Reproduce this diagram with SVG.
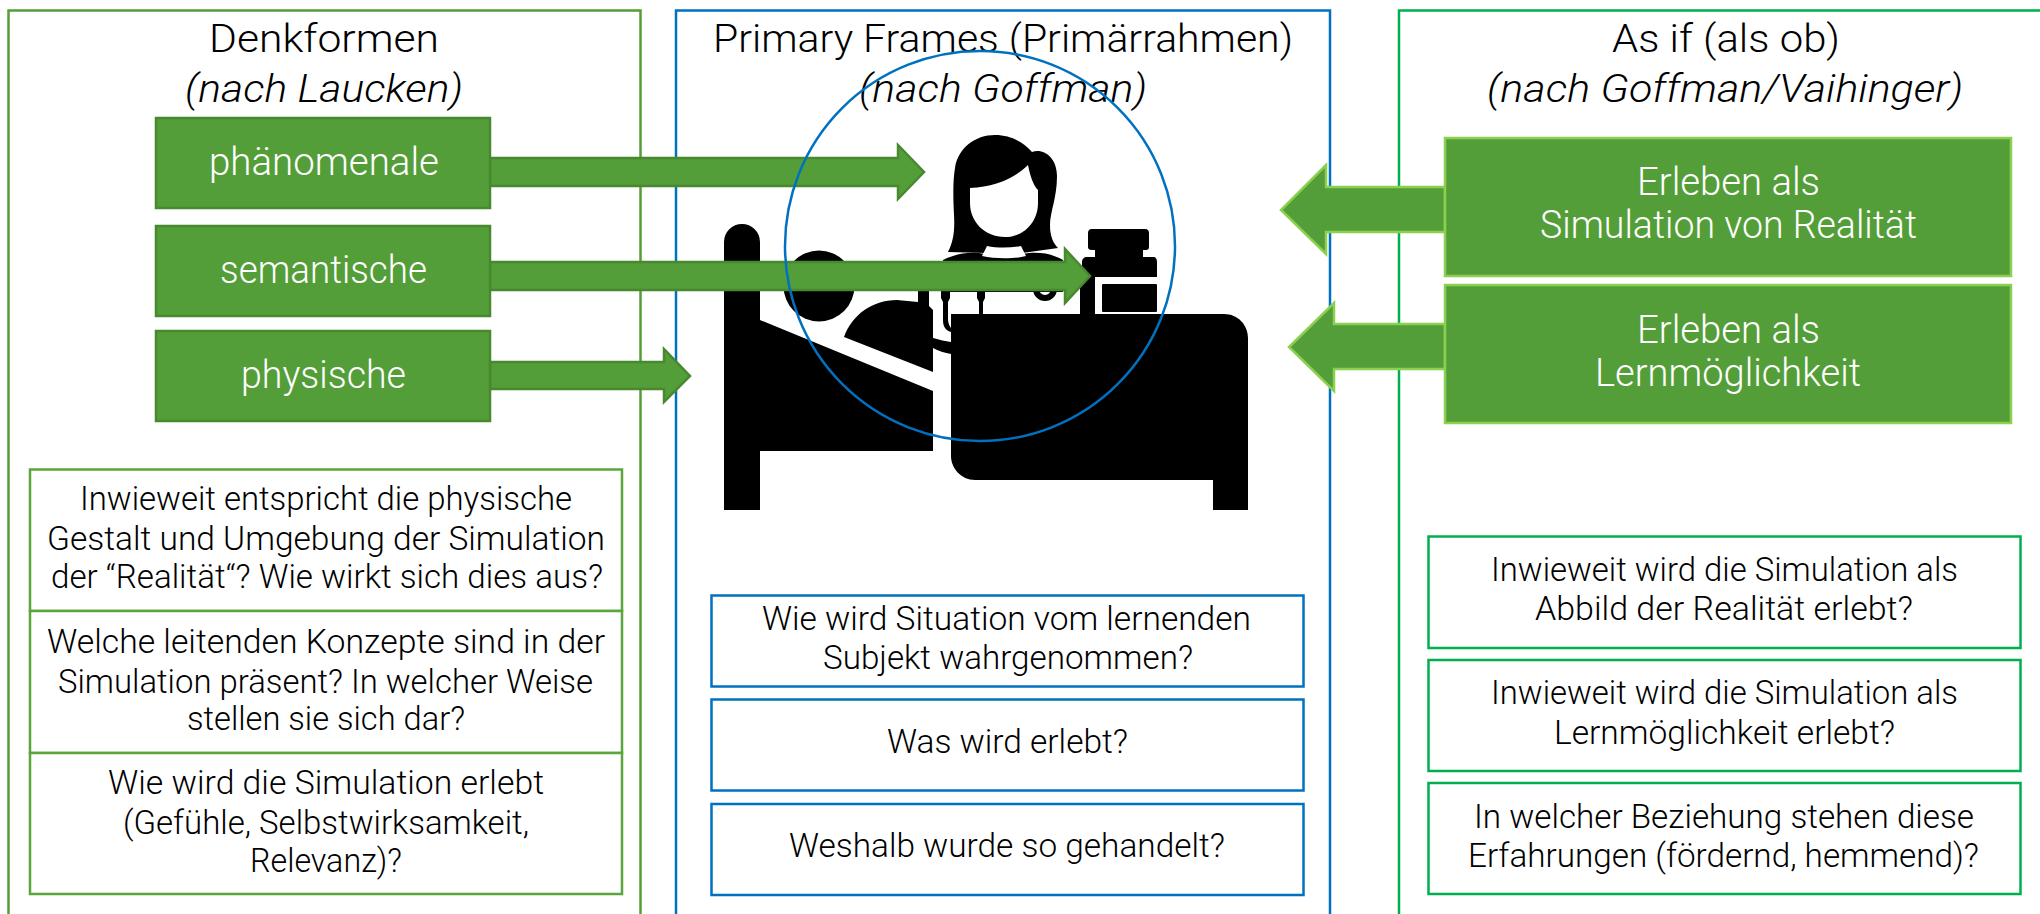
<svg xmlns="http://www.w3.org/2000/svg" width="2040" height="914" viewBox="0 0 2040 914">
<style>
text{font-family:"Roboto","Lato","Liberation Sans",sans-serif;font-weight:300;fill:#000}
.t{font-size:38px}
.q{font-size:33px}
.w{fill:#fff;font-size:38px}
.i{font-style:italic}
.panel{fill:#fff;stroke-width:2.5}
.g{fill:#549e39;stroke:#47892f;stroke-width:2.500}
.l{fill:#549e39;stroke:#8cd04f;stroke-width:2.500}
.qg{fill:#fff;stroke:#5aa53c;stroke-width:2.5}
.qb{fill:#fff;stroke:#0070c0;stroke-width:2.5}
.qn{fill:#fff;stroke:#00b050;stroke-width:2.5}
</style>
<g id="panel-denkformen"><rect class="panel" x="8.500" y="10.500" width="632" height="915" stroke="#549e39"/>
<text class="t" x="209" y="52" textLength="230" lengthAdjust="spacingAndGlyphs">Denkformen</text>
<text class="t i" x="185" y="102" textLength="278" lengthAdjust="spacingAndGlyphs">(nach Laucken)</text></g>
<g id="panel-primary"><rect class="panel" x="676" y="10.500" width="654" height="915" stroke="#0070c0"/>
<text class="t" x="713" y="52" textLength="580" lengthAdjust="spacingAndGlyphs">Primary Frames (Primärrahmen)</text>
<text class="t i" x="859" y="102" textLength="288" lengthAdjust="spacingAndGlyphs">(nach Goffman)</text></g>
<g id="panel-asif"><rect class="panel" x="1399" y="10.500" width="660" height="915" stroke="#00b050"/>
<text class="t" x="1612" y="52" textLength="228" lengthAdjust="spacingAndGlyphs">As if (als ob)</text>
<text class="t i" x="1487" y="102" textLength="476" lengthAdjust="spacingAndGlyphs">(nach Goffman/Vaihinger)</text></g>

<g id="icon-bed-nurse" fill="#000">
<path d="M724 510V242a18 18 0 0 1 36 0V320L933 391V451H760V510Z"/>
<circle cx="819" cy="286" r="35.500"/>
<path d="M844 337C852 315 872 300 897 300L918 302V290H929V306L933 310V372Z"/>
<path d="M943 260C955 254 970 251 985 254L1022 254C1040 251 1052 254 1063 260V292H943Z"/>
<path d="M941 288H950V298L948 302V318C948 323 949 325 951 328V332C945 330 943 326 943 320V302L941 298ZM977 288H985V298L983 302V316H979V302L977 298Z"/>
<path d="M933 338C940 340 945 341 951 342V354C945 353 938 351 933 348Z"/>
<path d="M995 135C1012 135 1024 143 1032 152C1044 148 1057 158 1057 176C1057 198 1050 212 1050 225C1050 236 1053 243 1058 248L1022 253H987L948 252C953 242 955 232 954 215C953 195 953 180 955 168C958 148 975 135 995 135Z"/>
<path d="M970 188C995 187 1015 178 1028 165C1030 175 1033 185 1038 190V203C1038 222 1024 237 1005 237C985 237 970 222 970 203Z" fill="#fff"/>
<path d="M987 246L982 256C995 259 1015 259 1026 256L1021 246C1010 248 997 248 987 246Z" fill="#fff"/>
<path d="M951 314H1224C1238 314 1248 325 1248 338V510H1213V480H975C961 480 951 468 951 456Z"/>
<path fill-rule="evenodd" d="M1033 289a12 12 0 1 0 24 0a12 12 0 1 0 -24 0ZM1039 289a6 6 0 1 1 12 0a6 6 0 1 1 -12 0Z"/>
<path d="M1092 229H1145C1148 229 1149 231 1149 233V247C1149 249 1148 250 1146 250H1143V257H1153C1156 257 1157 259 1157 262V277H1095V314H1080V277H1082V262C1082 259 1084 257 1087 257H1095V250H1092C1089 250 1088 249 1088 247V233C1088 231 1089 229 1092 229Z"/>
<rect x="1102" y="284" width="55" height="28" rx="1"/>
</g>

<g id="connectors">
<path class="g" d="M490 158H898V145L924 172L898 199V186H490Z"/>
<path class="g" d="M490 262H1065V249L1090 276L1065 303V290H490Z"/>
<path class="g" d="M490 362H664V349L690 376L664 402V389H490Z"/>
<path class="l" d="M1445 187H1326V165L1281 210L1326 254V232H1445Z"/>
<path class="l" d="M1445 324H1334V303L1289 347L1334 391V369H1445Z"/>
</g>

<g id="node-phaenomenale"><rect class="g" x="156" y="118" width="334" height="90"/><text class="w" x="209" y="175" textLength="230" lengthAdjust="spacingAndGlyphs">phänomenale</text></g>
<g id="node-semantische"><rect class="g" x="156" y="226" width="334" height="90"/><text class="w" x="220" y="283" textLength="207" lengthAdjust="spacingAndGlyphs">semantische</text></g>
<g id="node-physische"><rect class="g" x="156" y="331" width="334" height="90"/><text class="w" x="241" y="388" textLength="165" lengthAdjust="spacingAndGlyphs">physische</text></g>

<g id="node-erleben-realitaet"><rect class="l" x="1445" y="138" width="566" height="138"/>
<text class="w" x="1637" y="195" textLength="183" lengthAdjust="spacingAndGlyphs">Erleben als</text>
<text class="w" x="1540" y="238" textLength="377" lengthAdjust="spacingAndGlyphs">Simulation von Realität</text></g>
<g id="node-erleben-lernen"><rect class="l" x="1445" y="285" width="566" height="138"/>
<text class="w" x="1637" y="343" textLength="183" lengthAdjust="spacingAndGlyphs">Erleben als</text>
<text class="w" x="1595" y="386" textLength="266" lengthAdjust="spacingAndGlyphs">Lernmöglichkeit</text></g>

<g id="q-physisch"><rect class="qg" x="30" y="469.500" width="592" height="141.500"/>
<text class="q" x="80" y="510" textLength="492" lengthAdjust="spacingAndGlyphs">Inwieweit entspricht die physische</text>
<text class="q" x="47" y="550" textLength="558" lengthAdjust="spacingAndGlyphs">Gestalt und Umgebung der Simulation</text>
<text class="q" x="51" y="588" textLength="552" lengthAdjust="spacingAndGlyphs">der “Realität“? Wie wirkt sich dies aus?</text></g>
<g id="q-semantisch"><rect class="qg" x="30" y="611" width="592" height="142"/>
<text class="q" x="47" y="653" textLength="558" lengthAdjust="spacingAndGlyphs">Welche leitenden Konzepte sind in der</text>
<text class="q" x="58" y="693" textLength="535" lengthAdjust="spacingAndGlyphs">Simulation präsent? In welcher Weise</text>
<text class="q" x="187" y="730" textLength="278" lengthAdjust="spacingAndGlyphs">stellen sie sich dar?</text></g>
<g id="q-phaenomenal"><rect class="qg" x="30" y="753" width="592" height="141"/>
<text class="q" x="108" y="794" textLength="436" lengthAdjust="spacingAndGlyphs">Wie wird die Simulation erlebt</text>
<text class="q" x="123" y="834" textLength="406" lengthAdjust="spacingAndGlyphs">(Gefühle, Selbstwirksamkeit,</text>
<text class="q" x="250" y="872" textLength="152" lengthAdjust="spacingAndGlyphs">Relevanz)?</text></g>

<g id="q-situation"><rect class="qb" x="711.500" y="595.500" width="592" height="91"/>
<text class="q" x="762" y="630" textLength="489" lengthAdjust="spacingAndGlyphs">Wie wird Situation vom lernenden</text>
<text class="q" x="823" y="669" textLength="370" lengthAdjust="spacingAndGlyphs">Subjekt wahrgenommen?</text></g>
<g id="q-erlebt"><rect class="qb" x="711.500" y="699.500" width="592" height="91"/>
<text class="q" x="887" y="753" textLength="241" lengthAdjust="spacingAndGlyphs">Was wird erlebt?</text></g>
<g id="q-gehandelt"><rect class="qb" x="711.500" y="804" width="592" height="91"/>
<text class="q" x="789" y="857" textLength="436" lengthAdjust="spacingAndGlyphs">Weshalb wurde so gehandelt?</text></g>

<g id="q-abbild"><rect class="qn" x="1428.500" y="536.500" width="592" height="111.500"/>
<text class="q" x="1491" y="581" textLength="467" lengthAdjust="spacingAndGlyphs">Inwieweit wird die Simulation als</text>
<text class="q" x="1535" y="620" textLength="378" lengthAdjust="spacingAndGlyphs">Abbild der Realität erlebt?</text></g>
<g id="q-lernen"><rect class="qn" x="1428.500" y="660" width="592" height="111"/>
<text class="q" x="1491" y="704" textLength="467" lengthAdjust="spacingAndGlyphs">Inwieweit wird die Simulation als</text>
<text class="q" x="1554" y="744" textLength="341" lengthAdjust="spacingAndGlyphs">Lernmöglichkeit erlebt?</text></g>
<g id="q-beziehung"><rect class="qn" x="1428.500" y="783" width="592" height="111"/>
<text class="q" x="1474" y="828" textLength="500" lengthAdjust="spacingAndGlyphs">In welcher Beziehung stehen diese</text>
<text class="q" x="1468" y="867" textLength="511" lengthAdjust="spacingAndGlyphs">Erfahrungen (fördernd, hemmend)?</text></g>

<g id="focus-circle"><circle cx="980" cy="246" r="195" fill="none" stroke="#0070c0" stroke-width="2.500"/></g>
</svg>
